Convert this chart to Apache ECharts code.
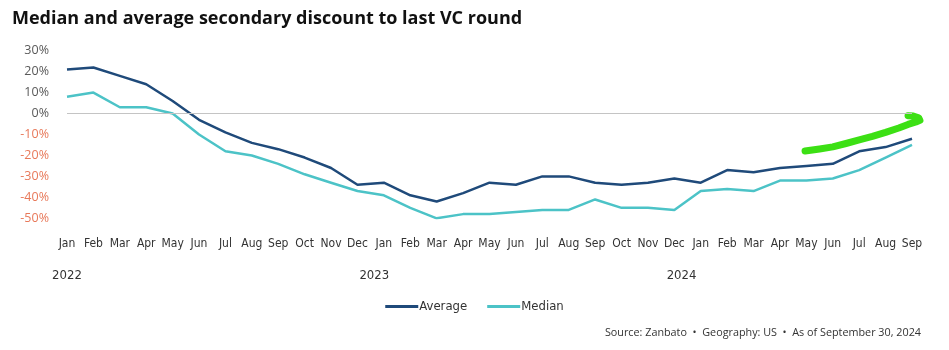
<!DOCTYPE html>
<html>
<head>
<meta charset="utf-8">
<script src="https://cdn.jsdelivr.net/npm/echarts@6/dist/echarts.min.js"></script>
<style>
html,body{margin:0;padding:0;background:#fff;}
#c{width:949px;height:350px;}
</style>
</head>
<body>
<div id="c"></div>
<script>
const months = ['Jan','Feb','Mar','Apr','May','Jun','Jul','Aug','Sep','Oct','Nov','Dec',
  'Jan','Feb','Mar','Apr','May','Jun','Jul','Aug','Sep','Oct','Nov','Dec',
  'Jan','Feb','Mar','Apr','May','Jun','Jul','Aug','Sep'];
const years = ['2022','','','','','','','','','','','',
  '2023','','','','','','','','','','','',
  '2024','','','','','','','','',''];
const average = [21,22,18,14,6,-3,-9,-14,-17,-21,-26,-34,
  -33,-39,-42,-38,-33,-34,-30,-30,-33,-34,-33,-31,
  -33,-27,-28,-26,-25,-24,-18,-16,-12];
const median = [8,10,3,3,0,-10,-18,-20,-24,-29,-33,-37,
  -39,-45,-50,-48,-48,-47,-46,-46,-41,-45,-45,-46,
  -37,-36,-37,-32,-32,-31,-27,-21,-15];
// hand-drawn green annotation arrow: [category position, value]
const arrowPath = [[27.95,-17.9],[28.5,-16.9],[29.0,-15.9],[29.5,-14.3],[30.0,-12.6],
  [30.5,-10.9],[31.0,-9.0],[31.5,-6.9],[31.85,-5.2],[32.15,-4.0],[32.3,-3.2],
  [32.25,-2.0],[32.05,-1.2],[31.85,-1.0]];
const yTicks = {min:-50, max:30, interval:10};

const chart = echarts.init(document.getElementById('c'));
const narrow = '"Liberation Sans Narrow","DejaVu Sans Condensed",sans-serif';
const plotW = 949 - 67 - 37;
chart.setOption({
  animation:false,
  title:{
    text:'Median and average secondary discount to last VC round',
    left:7, top:5,
    textStyle:{fontFamily:'"Open Sans",sans-serif', fontWeight:'bold', fontSize:18, color:'#111'}
  },
  graphic:[{
    type:'text', right:28, top:327,
    style:{text:'Source: Zanbato  •  Geography: US  •  As of September 30, 2024',
      font:'10.8px "Open Sans",sans-serif', fill:'#333'}
  }],
  legend:{
    data:['Average','Median'],
    left:'center', top:295,
    itemWidth:33, itemHeight:3, itemGap:20,
    icon:'rect',
    textStyle:{fontFamily:narrow, fontSize:13, color:'#333', padding:[0,0,0,-4]}
  },
  grid:[
    {left:67, width:plotW, top:50.7, height:167.6, containLabel:false},
    {left:67, width:plotW*33/32, top:50.7, height:167.6, containLabel:false}
  ],
  xAxis:[{
    type:'category', data:months, boundaryGap:false, gridIndex:0,
    axisLine:{show:false}, axisTick:{show:false},
    axisLabel:{interval:0, margin:20, fontFamily:narrow, fontSize:12, color:'#333'}
  },{
    type:'category', data:years, boundaryGap:false, position:'bottom', offset:31, gridIndex:0,
    axisLine:{show:false}, axisTick:{show:false},
    axisLabel:{interval:0, margin:20, fontFamily:narrow, fontSize:13, color:'#333'}
  },{
    type:'value', min:0, max:33, show:false, gridIndex:1
  }],
  yAxis:[{
    type:'value', min:yTicks.min, max:yTicks.max, interval:yTicks.interval, gridIndex:0,
    axisLine:{show:false}, axisTick:{show:false}, splitLine:{show:false},
    axisLabel:{margin:18, fontFamily:'"Open Sans",sans-serif', fontSize:12.5,
      formatter:v=>v+'%',
      color:v=>(v<0?'#e8795a':'#595959')}
  },{
    type:'value', min:yTicks.min, max:yTicks.max, gridIndex:1, show:false
  }],
  series:[{
    name:'Average', type:'line', data:average, xAxisIndex:0, yAxisIndex:0,
    symbol:'none', lineStyle:{color:'#1f4a7a', width:2.5}, itemStyle:{color:'#1f4a7a'},
    z:3,
    markLine:{silent:true, symbol:'none', label:{show:false},
      lineStyle:{color:'#c4c4c4', width:1.2, type:'solid'},
      data:[{yAxis:0}]}
  },{
    name:'Median', type:'line', data:median, xAxisIndex:0, yAxisIndex:0,
    symbol:'none', lineStyle:{color:'#4cc3c7', width:2.5}, itemStyle:{color:'#4cc3c7'},
    z:3
  },{
    name:'arrow', type:'line', data:arrowPath, xAxisIndex:2, yAxisIndex:1,
    symbol:'none', clip:false,
    lineStyle:{color:'#3ce014', width:7, cap:'round', join:'round'},
    z:4
  }]
});
</script>
</body>
</html>
